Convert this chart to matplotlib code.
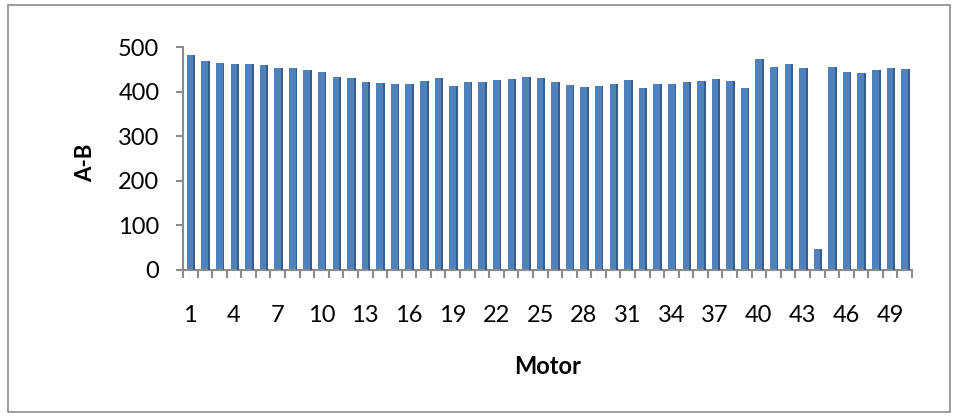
import matplotlib
matplotlib.use("Agg")
import matplotlib.pyplot as plt
from matplotlib.patches import Rectangle
import numpy as np

motors = list(range(1, 51))
ab_values = [482, 468, 464, 463, 461, 459, 454, 452, 448, 443,
             433, 430, 422, 419, 416, 418, 423, 431, 413, 421,
             422, 426, 428, 433, 431, 421, 414, 411, 413, 418,
             426, 408, 416, 418, 422, 423, 428, 423, 407, 473,
             456, 463, 453, 47, 456, 444, 442, 449, 453, 450]
xtick_labels = [str(m) for m in motors[::3]]
yticks = [0, 100, 200, 300, 400, 500]

plt.rcParams['font.family'] = ['Lato', 'DejaVu Sans']

fig = plt.figure(figsize=(9.58, 4.19), dpi=100)
fig.patches.append(Rectangle((8/958, 1-412/419), 942/958, 407/419,
                             transform=fig.transFigure, fill=False,
                             edgecolor='#8c8c8c', linewidth=1.2))

ax = fig.add_axes([183/958, 1-270/419, 729/958, 223/419])
x = np.array(motors)
ax.bar(x + 0.05, ab_values, width=0.58, color='#4F81BD', zorder=2)
ax.bar(x + 0.28, ab_values, width=0.12, color='#385D8A', zorder=3)

ax.set_xlim(0.5, 50.5)
ax.set_ylim(0, 500)
ax.set_yticks(yticks)
ax.set_yticklabels([str(v) for v in yticks], fontsize=17)
ax.set_xticks(x[::3])
ax.set_xticklabels(xtick_labels, fontsize=17)
ax.set_xticks(np.arange(0.5, 51, 1), minor=True)
ax.tick_params(axis='x', which='major', length=0, pad=25)
ax.tick_params(axis='x', which='minor', length=6, color='#8c8c8c', width=1.5)
ax.tick_params(axis='y', length=5, color='#8c8c8c', width=1.5, pad=12)

for s in ['top', 'right']:
    ax.spines[s].set_visible(False)
for s in ['left', 'bottom']:
    ax.spines[s].set_color('#8c8c8c')
    ax.spines[s].set_linewidth(1.5)

ax.set_ylabel('A-B', fontsize=16, fontweight='bold')
ax.yaxis.set_label_coords((86 - 183) / 729, 0.48)
ax.set_xlabel('Motor', fontsize=17, fontweight='bold')
ax.xaxis.set_label_coords(0.5, (270 - 367) / 223)
ax.xaxis.label.set_va('center')
ax.yaxis.label.set_va('center')

fig.savefig('out.png', dpi=100)
